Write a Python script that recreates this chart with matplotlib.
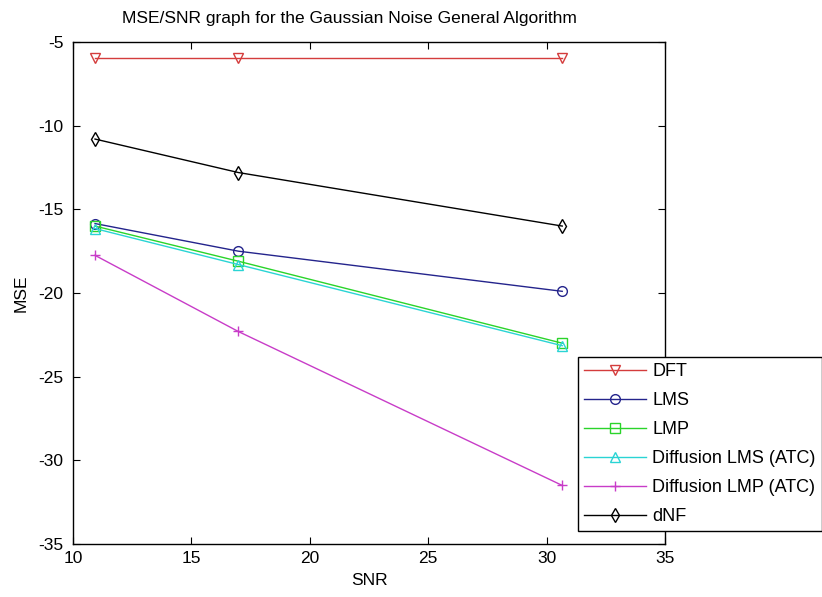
import matplotlib.pyplot as plt

snr = [10.93, 16.98, 30.66]
mse_dft = [-5.95, -5.95, -5.95]
mse_lms = [-15.85, -17.5, -19.9]
mse_lmp = [-16.0, -18.1, -23.0]
mse_dlms = [-16.15, -18.3, -23.15]
mse_dlmp = [-17.75, -22.3, -31.5]
mse_dnf = [-10.8, -12.8, -16.0]

labels = ["DFT", "LMS", "LMP", "Diffusion LMS (ATC)", "Diffusion LMP (ATC)", "dNF"]
series = [mse_dft, mse_lms, mse_lmp, mse_dlms, mse_dlmp, mse_dnf]
colors = ["#d43c3c", "#24248c", "#2ad42a", "#2ad4d4", "#c83cc8", "#000000"]
markers = ["v", "o", "s", "^", "+", "d"]

plt.rcParams['font.family'] = ['Liberation Sans', 'DejaVu Sans']
plt.rcParams['axes.unicode_minus'] = False

fs = 12.5
fig = plt.figure(figsize=(8.22, 5.97), dpi=100)
ax = fig.add_axes([73 / 822, 53 / 597, 592 / 822, 502 / 597])

for ys, lab, c, m in zip(series, labels, colors, markers):
    ax.plot(snr, ys, color=c, marker=m, markersize=7, markerfacecolor='none',
            markeredgecolor=c, linewidth=1, label=lab)

ax.set_xlim(10, 35)
ax.set_ylim(-35, -5)
ax.set_xticks([10, 15, 20, 25, 30, 35])
ax.set_yticks([-35, -30, -25, -20, -15, -10, -5])
ax.tick_params(direction='in', top=True, right=True, length=5, labelsize=fs)
ax.tick_params(axis='x', pad=5)
ax.tick_params(axis='y', pad=7)
for s in ax.spines.values():
    s.set_linewidth(1)

fig.text(349 / 822, 1 - 18 / 597, "MSE/SNR graph for the Gaussian Noise General Algorithm",
         ha='center', va='center', fontsize=fs)
ax.set_xlabel("SNR", fontsize=fs, labelpad=5)
ax.set_ylabel("MSE", fontsize=fs, labelpad=7)

leg = fig.legend(loc='upper left', bbox_to_anchor=(578 / 822, 1 - 357 / 597),
                 fontsize=13, frameon=True, fancybox=False, framealpha=1,
                 edgecolor='black', borderpad=0.35, labelspacing=0.66,
                 handlelength=3.4, handletextpad=0.35, borderaxespad=0)
leg.get_frame().set_linewidth(1)

fig.savefig("out.png", dpi=100)
